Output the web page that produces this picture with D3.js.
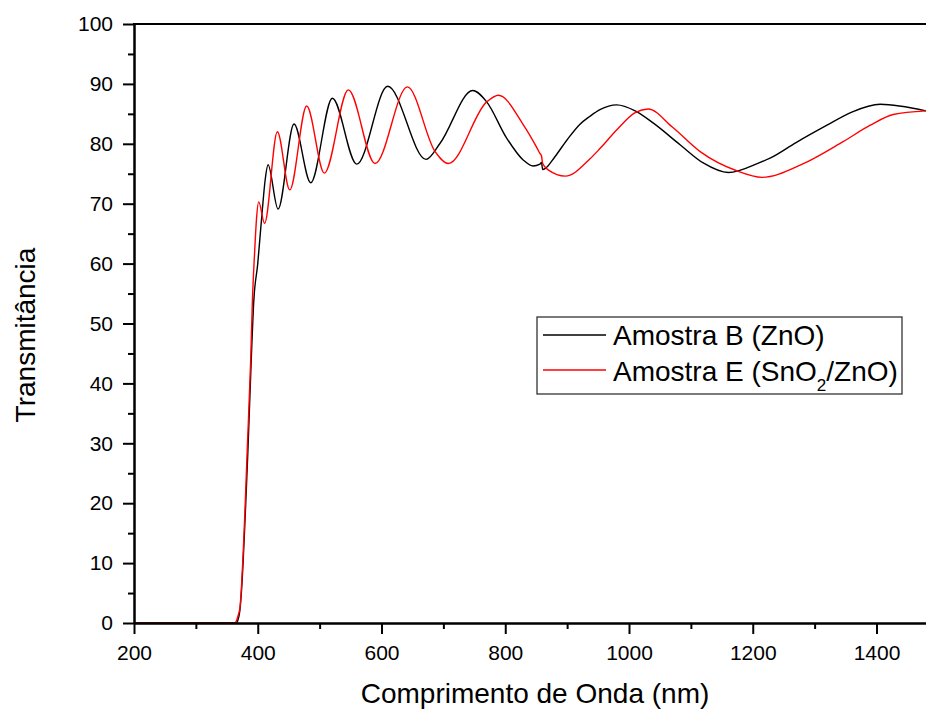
<!DOCTYPE html>
<html>
<head>
<meta charset="utf-8">
<script src="https://cdn.jsdelivr.net/npm/d3@7"></script>
<style>
  body { margin: 0; background: #fff; }
  svg { display: block; }
  text { font-family: Arial, "Liberation Sans", sans-serif; fill: #000; }
</style>
</head>
<body>
<svg id="chart" width="926" height="710"></svg>
<script>
// Transmittance spectra (wavelength in nm, transmittance in %)
const wavelengthB = [200, 300, 365, 368, 371, 373.5, 376, 378.5, 381, 384, 389.5, 393.5, 400, 407, 412, 416.6,
  432.8, 458.6, 485.6, 520.6, 560, 610, 672, 694.7, 747.5, 770, 802, 829, 845, 856, 858.5, 860.5, 866, 880,
  899.5, 920, 937, 953, 980, 1010, 1040, 1083, 1120, 1160.7, 1212, 1228, 1270, 1320, 1360, 1406, 1480];
const transB = [0, 0, 0, 0.5, 2, 5, 9.5, 15, 21, 28.5, 44, 53.6, 60, 68.5, 74, 76.5,
  69.1, 83.3, 73.5, 87.6, 76.6, 89.6, 77.4, 80.1, 88.9, 87.0, 81.0, 77.3, 76.3, 76.6, 76.9, 75.7, 76.0, 77.8,
  80.6, 83.2, 84.6, 85.7, 86.5, 85.5, 83.4, 79.8, 76.8, 75.2, 76.9, 77.6, 80.2, 83.1, 85.3, 86.6, 85.5];

const wavelengthE = [200, 300, 363, 366, 369, 371.4, 374, 376.7, 379.4, 383, 388.6, 391.3, 395, 398, 401.6,
  411, 431.7, 451.7, 479.1, 507.6, 546.4, 589.6, 641.8, 686.6, 708, 770, 789, 829, 850.8, 856, 858.5,
  860.5, 870, 897, 937, 953, 980, 1010, 1031, 1070, 1115, 1174, 1215, 1280, 1346.6, 1390, 1427, 1480];
const transE = [0, 0, 0, 0.5, 1.5, 2.7, 6.6, 12.2, 18.9, 28.9, 43.9, 53.6, 62, 67.5, 70.3,
  66.7, 82.0, 72.3, 86.3, 75.1, 89.0, 76.7, 89.5, 78.7, 76.7, 87.0, 88.1, 83.2, 79.4, 78.4, 78.0,
  76.7, 75.6, 74.6, 77.5, 79.2, 82.3, 85.2, 85.8, 82.8, 78.7, 75.5, 74.4, 76.6, 80.4, 83.1, 84.9, 85.5];

const xMajorTicks = [200, 400, 600, 800, 1000, 1200, 1400];
const xMinorTicks = [300, 500, 700, 900, 1100, 1300];
const yMajorTicks = [0, 10, 20, 30, 40, 50, 60, 70, 80, 90, 100];
const yMinorTicks = [5, 15, 25, 35, 45, 55, 65, 75, 85, 95];

const seriesNames = ["Amostra B (ZnO)", "Amostra E (SnO", "2", "/ZnO)"];
const seriesColors = ["#000000", "#ff0000"];

const svg = d3.select("#chart");
const plotLeft = 134, plotRight = 926, plotTop = 24, plotBottom = 623;

const x = d3.scaleLinear().domain([200, 1480]).range([plotLeft, plotRight]);
const y = d3.scaleLinear().domain([0, 100]).range([plotBottom, plotTop]);

svg.append("defs").append("clipPath").attr("id", "plotClip")
  .append("rect").attr("x", plotLeft).attr("y", plotTop - 2)
  .attr("width", plotRight - plotLeft).attr("height", plotBottom - plotTop + 2);

// Spectra
const line = d3.line().x(d => x(d[0])).y(d => y(d[1])).curve(d3.curveMonotoneX);
const plot = svg.append("g").attr("clip-path", "url(#plotClip)");
[[wavelengthB, transB], [wavelengthE, transE]].forEach(([wl, t], i) => {
  plot.append("path")
    .datum(wl.map((w, k) => [w, t[k]]))
    .attr("d", line)
    .attr("fill", "none")
    .attr("stroke", seriesColors[i])
    .attr("stroke-width", 1.4);
});

// Axes
function styleAxis(g) {
  g.selectAll(".domain").attr("stroke", "#000").attr("stroke-width", 2);
  g.selectAll(".tick line").attr("stroke", "#000").attr("stroke-width", 2);
  g.selectAll(".tick text").style("font-size", "21px").attr("fill", "#000");
}

svg.append("g").attr("transform", `translate(0,${plotBottom})`)
  .call(d3.axisBottom(x).tickValues(xMinorTicks).tickSize(6).tickSizeOuter(0).tickFormat(""))
  .call(styleAxis);
svg.append("g").attr("transform", `translate(0,${plotBottom})`)
  .call(d3.axisBottom(x).tickValues(xMajorTicks).tickSize(11).tickSizeOuter(0).tickPadding(11).tickFormat(d3.format("d")))
  .call(styleAxis);

svg.append("g").attr("transform", `translate(${plotLeft},0)`)
  .call(d3.axisLeft(y).tickValues(yMinorTicks).tickSize(6).tickSizeOuter(0).tickFormat(""))
  .call(styleAxis);
svg.append("g").attr("transform", `translate(${plotLeft},0)`)
  .call(d3.axisLeft(y).tickValues(yMajorTicks).tickSize(11).tickSizeOuter(0).tickPadding(10).tickFormat(d3.format("d")))
  .call(styleAxis);

// Top frame
svg.append("line").attr("x1", plotLeft - 1).attr("x2", plotRight).attr("y1", plotTop).attr("y2", plotTop)
  .attr("stroke", "#000").attr("stroke-width", 2);

// Axis titles
svg.append("text").attr("x", 535).attr("y", 703).attr("text-anchor", "middle")
  .style("font-size", "28px").text("Comprimento de Onda (nm)");
svg.append("text").attr("transform", "translate(35,335) rotate(-90)").attr("text-anchor", "middle")
  .style("font-size", "28px").text("Transmitância");

// Legend
const lg = svg.append("g");
lg.append("rect").attr("x", 537).attr("y", 317).attr("width", 365).attr("height", 77)
  .attr("fill", "#fff").attr("stroke", "#333").attr("stroke-width", 1.3);
[335, 370].forEach((ly, i) => {
  lg.append("line").attr("x1", 543).attr("x2", 606).attr("y1", ly).attr("y2", ly)
    .attr("stroke", seriesColors[i]).attr("stroke-width", 1.3);
});
lg.append("text").attr("x", 613).attr("y", 345).style("font-size", "28px").text(seriesNames[0]);
const t2 = lg.append("text").attr("x", 613).attr("y", 381).style("font-size", "28px");
t2.append("tspan").text(seriesNames[1]);
t2.append("tspan").attr("dy", 10).style("font-size", "17px").text(seriesNames[2]);
t2.append("tspan").attr("dy", -10).text(seriesNames[3]);
</script>
</body>
</html>
